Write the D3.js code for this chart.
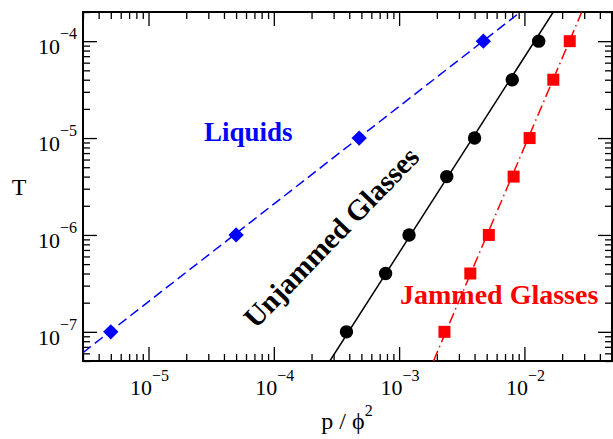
<!DOCTYPE html>
<html>
<head>
<meta charset="utf-8">
<script src="https://cdn.jsdelivr.net/npm/d3@7"></script>
<style>
  body { margin: 0; background: #fff; }
  svg { display: block; font-family: "Liberation Serif", "DejaVu Serif", serif; }
</style>
</head>
<body>
<svg width="613" height="439"></svg>
<script>
// tick values
const xMajor = [1e-5, 1e-4, 1e-3, 1e-2];
const yMajor = [1e-7, 1e-6, 1e-5, 1e-4];
const xExp = ["\u22125", "\u22124", "\u22123", "\u22122"];
const yExp = ["\u22127", "\u22126", "\u22125", "\u22124"];

// Liquids (blue diamonds)
const liquidP = [5e-6, 5e-5, 4.8e-4, 4.7e-3];
const liquidT = [1e-7, 1e-6, 1e-5, 1e-4];
const liquidFitP = [3e-6, 9.3e-3];
const liquidFitT = [6.1e-8, 2e-4];

// Unjammed glasses (black circles)
const unjamP = [3.8e-4, 7.8e-4, 1.2e-3, 2.4e-3, 4.0e-3, 8.0e-3, 1.3e-2];
const unjamT = [1e-7, 4e-7, 1e-6, 4e-6, 1e-5, 4e-5, 1e-4];
const unjamFitP = [2.8e-4, 1.7e-2];
const unjamFitT = [5e-8, 2e-4];

// Jammed glasses (red squares)
const jamP = [2.3e-3, 3.7e-3, 5.2e-3, 8.2e-3, 1.1e-2, 1.7e-2, 2.3e-2];
const jamT = [1e-7, 4e-7, 1e-6, 4e-6, 1e-5, 4e-5, 1e-4];
const jamFitP = [1.88e-3, 2.87e-2];
const jamFitT = [5e-8, 2e-4];

const box = { left: 83, right: 612, top: 12, bottom: 361 };
const svg = d3.select("svg");

const x = d3.scaleLog().domain([3e-6, 5e-2]).range([box.left, box.right]);
const y = d3.scaleLog().domain([5e-8, 2e-4]).range([box.bottom, box.top]);

// minor ticks 2..9 of every decade inside the domain
function minors(scale) {
  const [a, b] = scale.domain();
  const out = [];
  for (let e = Math.floor(Math.log10(a)); e <= Math.ceil(Math.log10(b)); e++) {
    for (let m = 2; m <= 9; m++) {
      const v = m * Math.pow(10, e);
      if (v >= a && v <= b) out.push(v);
    }
  }
  return out;
}

function drawAxis(axisFn, scale, tr, values, size) {
  const g = svg.append("g")
    .attr("transform", tr)
    .call(axisFn(scale).tickValues(values).tickSize(size).tickSizeOuter(0).tickFormat(""));
  g.select(".domain").remove();
  g.selectAll(".tick line").attr("stroke", "#000").attr("stroke-width", 1.3);
}

// inward ticks on all four sides
drawAxis(d3.axisBottom, x, `translate(0,${box.bottom})`, xMajor, -14);
drawAxis(d3.axisBottom, x, `translate(0,${box.bottom})`, minors(x), -7);
drawAxis(d3.axisTop, x, `translate(0,${box.top})`, xMajor, -14);
drawAxis(d3.axisTop, x, `translate(0,${box.top})`, minors(x), -7);
drawAxis(d3.axisLeft, y, `translate(${box.left},0)`, yMajor, -14);
drawAxis(d3.axisLeft, y, `translate(${box.left},0)`, minors(y), -7);
drawAxis(d3.axisRight, y, `translate(${box.right},0)`, yMajor, -14);
drawAxis(d3.axisRight, y, `translate(${box.right},0)`, minors(y), -7);

// frame
svg.append("rect")
  .attr("x", box.left).attr("y", box.top)
  .attr("width", box.right - box.left).attr("height", box.bottom - box.top)
  .attr("fill", "none").attr("stroke", "#000").attr("stroke-width", 2);

// tick labels 10^n
xMajor.forEach((v, i) => {
  const t = svg.append("text")
    .attr("x", x(v) + 1).attr("y", 395)
    .attr("text-anchor", "middle")
    .attr("font-size", 22);
  t.append("tspan").text("10");
  t.append("tspan").attr("dy", -14).attr("font-size", 16).text(xExp[i]);
});
yMajor.forEach((v, i) => {
  const t = svg.append("text")
    .attr("x", 77).attr("y", y(v) + 13)
    .attr("text-anchor", "end")
    .attr("font-size", 22);
  t.append("tspan").text("10");
  t.append("tspan").attr("dy", -15).attr("font-size", 16).text(yExp[i]);
});

// axis titles
const xt = svg.append("text")
  .attr("x", 347).attr("y", 429)
  .attr("text-anchor", "middle")
  .attr("font-size", 24);
xt.append("tspan").text("p / \u03d5");
xt.append("tspan").attr("dy", -13).attr("font-size", 16).text("2");

svg.append("text")
  .attr("x", 19).attr("y", 195)
  .attr("text-anchor", "middle")
  .attr("font-size", 24)
  .text("T");

// plotted data, clipped to frame
svg.append("clipPath").attr("id", "clip")
  .append("rect")
  .attr("x", box.left).attr("y", box.top)
  .attr("width", box.right - box.left).attr("height", box.bottom - box.top);

const plot = svg.append("g").attr("clip-path", "url(#clip)");
const line = d3.line().x(d => x(d[0])).y(d => y(d[1]));

plot.append("path")
  .datum(d3.zip(liquidFitP, liquidFitT))
  .attr("d", line)
  .attr("fill", "none").attr("stroke", "#0000ff").attr("stroke-width", 1.5)
  .attr("stroke-dasharray", "10,5");

plot.append("path")
  .datum(d3.zip(unjamFitP, unjamFitT))
  .attr("d", line)
  .attr("fill", "none").attr("stroke", "#000").attr("stroke-width", 1.5);

plot.append("path")
  .datum(d3.zip(jamFitP, jamFitT))
  .attr("d", line)
  .attr("fill", "none").attr("stroke", "#ff0000").attr("stroke-width", 1.5)
  .attr("stroke-dasharray", "11,4,1.5,4");

plot.selectAll(".diamond")
  .data(d3.zip(liquidP, liquidT))
  .enter().append("path")
  .attr("class", "diamond")
  .attr("d", d3.symbol(d3.symbolDiamond2, 150))
  .attr("transform", d => `translate(${x(d[0])},${y(d[1])})`)
  .attr("fill", "#0000ff");

plot.selectAll(".circle")
  .data(d3.zip(unjamP, unjamT))
  .enter().append("circle")
  .attr("class", "circle")
  .attr("cx", d => x(d[0])).attr("cy", d => y(d[1]))
  .attr("r", 6.7)
  .attr("fill", "#000");

plot.selectAll(".square")
  .data(d3.zip(jamP, jamT))
  .enter().append("rect")
  .attr("class", "square")
  .attr("x", d => x(d[0]) - 6).attr("y", d => y(d[1]) - 6)
  .attr("width", 12).attr("height", 12)
  .attr("fill", "#ff0000");

// annotations
svg.append("text")
  .attr("x", 204).attr("y", 141)
  .attr("font-size", 27).attr("font-weight", "bold")
  .attr("fill", "#0000ff")
  .text("Liquids");

svg.append("text")
  .attr("x", 400).attr("y", 304)
  .attr("font-size", 28).attr("font-weight", "bold")
  .attr("fill", "#ff0000")
  .text("Jammed Glasses");

svg.append("text")
  .attr("transform", "translate(331,237) rotate(-46)")
  .attr("text-anchor", "middle")
  .attr("dy", "0.35em")
  .attr("font-size", 29).attr("font-weight", "bold")
  .attr("fill", "#000")
  .text("Unjammed Glasses");
</script>
</body>
</html>
